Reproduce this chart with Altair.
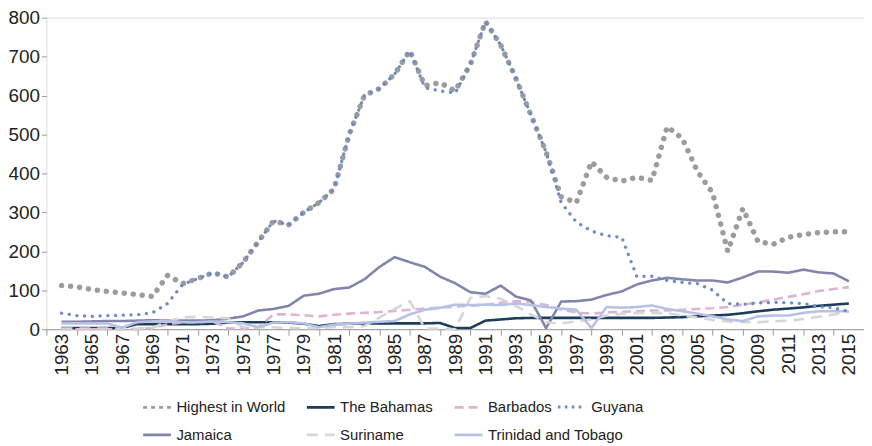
import altair as alt
import pandas as pd

years = list(range(1963, 2016))

highest = [112, 109, 102, 97, 93, 89, 84, 138, 117, 130,
           145, 134, 172, 225, 278, 268, 300, 325, 360, 500,
           600, 618, 655, 715, 625, 633, 612, 680, 790, 730,
           645, 550, 455, 340, 325, 430, 390, 380, 390, 382,
           520, 490, 405, 350, 200, 310, 225, 218, 236, 243,
           248, 250, 250]
bahamas = [3, 3, 3, 3, 3, 13, 13, 13, 13, 13,
           14, 17, 18, 18, 18, 17, 14, 8, 13, 14,
           15, 15, 15, 15, 15, 16, 3, 3, 22, 25,
           28, 29, 29, 29, 29, 29, 29, 29, 29, 29,
           30, 31, 33, 35, 37, 41, 46, 50, 53, 56,
           60, 63, 66]
barbados = [0, 0, 0, 0, 0, 0, 3, 12, 18, 18,
            20, 2, 2, 5, 38, 38, 36, 33, 37, 40,
            42, 44, 47, 50, 53, 55, 58, 60, 63, 68,
            72, 70, 62, 50, 43, 40, 43, 45, 46, 48,
            48, 50, 52, 54, 57, 63, 69, 76, 83, 90,
            98, 103, 108]
guyana = [41, 35, 33, 35, 36, 37, 42, 66, 115, 130,
          145, 134, 172, 225, 278, 268, 300, 325, 360, 500,
          600, 618, 655, 715, 620, 612, 606, 680, 790, 730,
          645, 550, 455, 325, 275, 252, 240, 236, 135, 136,
          125, 120, 117, 100, 66, 64, 67, 69, 68, 66,
          58, 55, 45]
jamaica = [19, 19, 20, 21, 21, 22, 23, 22, 22, 22,
           23, 27, 33, 48, 52, 60, 86, 91, 103, 107,
           128, 160, 185, 172, 160, 135, 118, 95, 91, 112,
           84, 74, 3, 71, 72, 76, 88, 97, 115, 125,
           132, 128, 125, 125, 120, 133, 148, 148, 145, 153,
           146, 143, 123]
suriname = [2, 2, 2, 2, 2, 2, 3, 20, 30, 32,
            30, 28, 5, 5, 5, 3, 3, 3, 5, 5,
            8, 30, 52, 72, 2, 2, 0, 80, 85, 78,
            60, 38, 18, 15, 20, 25, 35, 40, 42, 42,
            41, 35, 30, 24, 20, 18, 18, 20, 22, 26,
            32, 38, 45]
trinidad = [15, 15, 15, 15, 4, 18, 20, 21, 18, 18,
            20, 18, 15, 5, 17, 18, 15, 5, 12, 14,
            17, 19, 21, 38, 50, 55, 63, 62, 63, 62,
            66, 62, 57, 53, 50, 3, 57, 55, 57, 61,
            52, 46, 40, 33, 25, 21, 33, 35, 35, 42,
            46, 46, 46]

series_a = ["Highest in World", "The Bahamas", "Barbados",
            "Jamaica", "Suriname", "Trinidad and Tobago"]
values_a = [highest, bahamas, barbados, jamaica, suriname, trinidad]
colors_a = ["#9c9c9c", "#1d3d5c", "#dcb3d0", "#8484aa", "#d6d6d6", "#b6c1e6"]
dash_a = [[4, 4], [1, 0], [9, 5], [1, 0], [11, 7], [1, 0]]


def frame(names, arrays):
    rows = []
    for name, vals in zip(names, arrays):
        for y, v in zip(years, vals):
            rows.append({"year": y, "value": v, "series": name})
    return pd.DataFrame(rows)


df_top = frame(series_a[:1], values_a[:1])
df_rest = frame(series_a[1:], values_a[1:])
df_guy = frame(["Guyana"], [guyana])

FONT = "Liberation Sans, Arial, sans-serif"

x_enc = alt.X(
    "year:Q",
    scale=alt.Scale(domain=[1962, 2016], nice=False, zero=False),
    axis=alt.Axis(
        title=None, values=list(range(1962, 2017)), format="d",
        labelExpr="datum.value % 2 == 1 ? datum.label : ''",
        labelAngle=270, labelFontSize=19, labelFont=FONT, labelColor="#222222",
        labelPadding=-2, labelOverlap=False, labelFlush=False,
        tickSize=6, tickColor="#9a9a9a", domainColor="#9a9a9a",
        tickOpacity={"condition": {"test": "datum.value % 2 == 0", "value": 1}, "value": 0},
        grid=False,
    ),
)
y_enc = alt.Y(
    "value:Q",
    scale=alt.Scale(domain=[0, 800], nice=False),
    axis=alt.Axis(
        title=None, values=[0, 100, 200, 300, 400, 500, 600, 700, 800],
        labelFontSize=19, labelFont=FONT, labelColor="#222222",
        tickSize=5, tickColor="#9a9a9a", domain=False, grid=False, labelPadding=2,
    ),
)

legend_common = dict(
    title=None, orient="none", direction="horizontal",
    labelFont=FONT, labelFontSize=15, labelLimit=400,
    labelColor="#222222", symbolType="stroke", symbolSize=784,
    symbolStrokeWidth=2.6, labelOffset=4, rowPadding=4, legendY=377,
)
legend_a = alt.Legend(columns=3, columnPadding=16, legendX=96, **legend_common)
legend_b = alt.Legend(legendX=514, symbolDash=[2.6, 4.4], symbolStrokeWidth=3,
                      **{k: v for k, v in legend_common.items() if k != "symbolStrokeWidth"})

color_a = alt.Color("series:N", scale=alt.Scale(domain=series_a, range=colors_a),
                    legend=legend_a)
dash_enc_a = alt.StrokeDash("series:N", scale=alt.Scale(domain=series_a, range=dash_a),
                            legend=legend_a)

top = alt.Chart(df_top).mark_line(
    strokeWidth=5.5, strokeCap="round", strokeJoin="round", strokeDash=[0.1, 9]
).encode(
    x=x_enc, y=y_enc, color=color_a, order=alt.Order("year:Q"),
)
rest = alt.Chart(df_rest).mark_line(strokeWidth=2.6, strokeCap="butt", strokeJoin="round").encode(
    x=x_enc, y=y_enc, color=color_a, strokeDash=dash_enc_a, order=alt.Order("year:Q"),
)
guy = alt.Chart(df_guy).mark_line(
    strokeWidth=3.3, strokeCap="round", strokeJoin="round", strokeDash=[0.1, 7.7]
).encode(
    x=x_enc, y=y_enc,
    color=alt.Color("series:N", scale=alt.Scale(domain=["Guyana"], range=["#6b8cc8"]),
                    legend=legend_b),
    order=alt.Order("year:Q"),
)

group_a = alt.layer(top, rest)

chart = alt.layer(group_a, guy).resolve_scale(
    color="independent", strokeDash="independent"
).properties(
    width=824, height=314,
    autosize=alt.AutoSizeParams(type="none"),
    padding={"left": 38.7, "top": 8, "right": 0, "bottom": 116},
).configure_view(stroke=None).configure(background="white")

chart.save("out.html", embed_options={"renderer": "svg", "actions": False})
